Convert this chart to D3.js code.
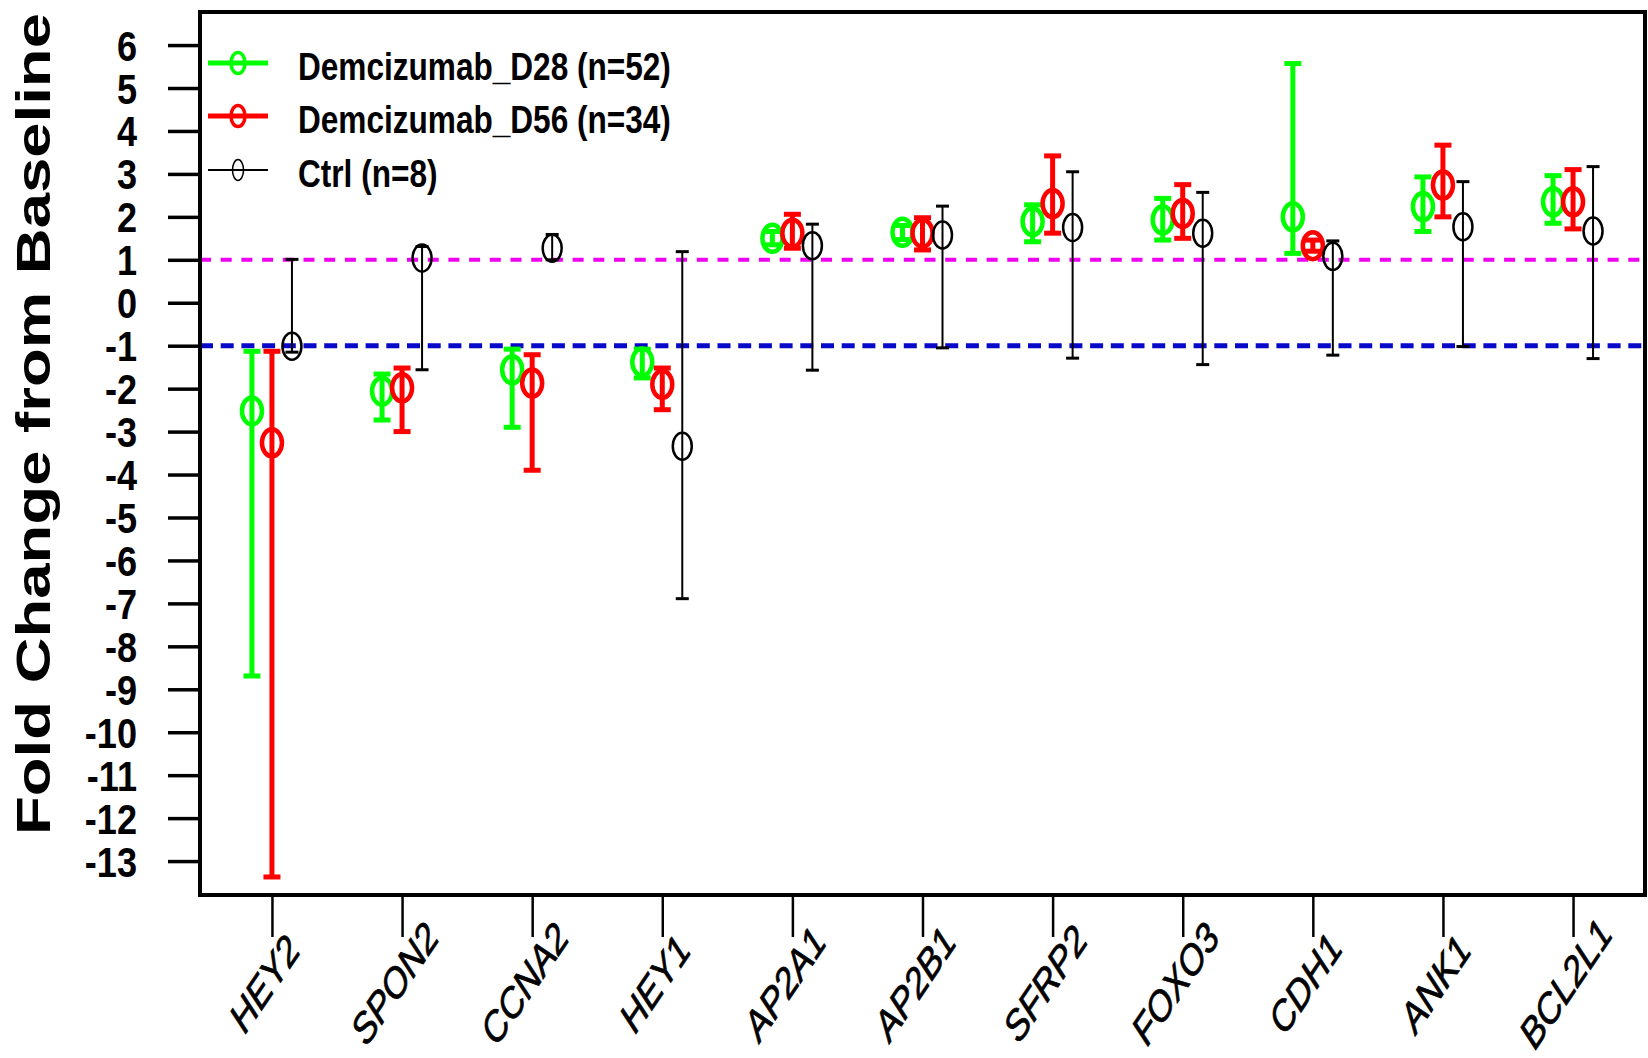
<!DOCTYPE html>
<html>
<head>
<meta charset="utf-8">
<script src="https://cdn.jsdelivr.net/npm/d3@7"></script>
<style>
  body { margin: 0; background: #fff; }
  svg { display: block; font-family: "Liberation Sans", Arial, sans-serif; }
</style>
</head>
<body>
<svg id="chart" width="1648" height="1058"></svg>
<script>
// genes on the x axis
var genes = ['HEY2', 'SPON2', 'CCNA2', 'HEY1', 'AP2A1', 'AP2B1', 'SFRP2', 'FOXO3', 'CDH1', 'ANK1', 'BCL2L1'];

// Demcizumab D28
var d28Mean = [-2.52, -2.06, -1.56, -1.38, 1.50, 1.64, 1.89, 1.93, 2.00, 2.24, 2.35];
var d28Low  = [-8.69, -2.73, -2.90, -1.75, 1.35, 1.47, 1.42, 1.46, 1.15, 1.66, 1.85];
var d28High = [-1.13, -1.66, -1.08, -1.08, 1.66, 1.80, 2.28, 2.43, 5.57, 2.93, 2.96];

// Demcizumab D56
var d56Mean = [-3.26, -1.98, -1.87, -1.90, 1.62, 1.62, 2.31, 2.08, 1.33, 2.74, 2.35];
var d56Low  = [-13.37, -3.00, -3.90, -2.49, 1.27, 1.23, 1.62, 1.50, 1.20, 2.00, 1.72];
var d56High = [-1.13, -1.52, -1.21, -1.52, 2.06, 1.98, 3.42, 2.75, 1.46, 3.67, 3.10];

// Ctrl
var ctrlMean = [-1.01, 1.04, 1.27, -3.34, 1.33, 1.58, 1.75, 1.62, 1.08, 1.77, 1.67];
var ctrlLow  = [-1.15, -1.56, 1.00, -6.89, -1.57, -1.05, -1.29, -1.44, -1.22, -1.02, -1.30];
var ctrlHigh = [1.01, 1.31, 1.59, 1.19, 1.83, 2.25, 3.05, 2.57, 1.44, 2.82, 3.17];

var yTicks = [6, 5, 4, 3, 2, 1, 0, -1, -2, -3, -4, -5, -6, -7, -8, -9, -10, -11, -12, -13];
var refLines = [1, -1];

var seriesNames = ['Demcizumab_D28 (n=52)', 'Demcizumab_D56 (n=34)', 'Ctrl (n=8)'];

var svg = d3.select('#chart');
// note: "top" is taken by window.top, so prefix the box edges
var boxL = 200, boxR = 1645, boxT = 12, boxB = 895;
var sx = 0.81; // text in the picture is narrow

var x = d3.scalePoint().domain(genes).range([boxL, boxR]).padding(0.553);
var y = d3.scaleLinear().domain([-13.79, 6.77]).range([boxB, boxT]);

var series = [
    { name: seriesNames[0], mean: d28Mean, low: d28Low, high: d28High, color: '#00ff00', offset: -20, lw: 5, cap: 17, capW: 5, rx: 10, ry: 13.5, sw: 4.5 },
    { name: seriesNames[1], mean: d56Mean, low: d56Low, high: d56High, color: '#ff0000', offset: 0, lw: 5, cap: 17, capW: 5, rx: 10, ry: 13.5, sw: 4.5 },
    { name: seriesNames[2], mean: ctrlMean, low: ctrlLow, high: ctrlHigh, color: '#000000', offset: 20, lw: 2, cap: 13, capW: 3, rx: 9.5, ry: 13.5, sw: 2.5 }
];

svg.append('rect').attr('width', 1648).attr('height', 1058).attr('fill', '#fff');

// reference lines at +1 / -1
svg.append('line')
    .attr('x1', boxL).attr('x2', boxR)
    .attr('y1', y(refLines[0])).attr('y2', y(refLines[0]))
    .attr('stroke', '#f000f0').attr('stroke-width', 4)
    .attr('stroke-dasharray', '11,9.7');
svg.append('line')
    .attr('x1', boxL).attr('x2', boxR)
    .attr('y1', y(refLines[1])).attr('y2', y(refLines[1]))
    .attr('stroke', '#0808c8').attr('stroke-width', 5)
    .attr('stroke-dasharray', '13,7.7');

// error bars + markers
series.forEach(function(s) {
    var g = svg.append('g');
    var rows = genes.map(function(gn, i) {
        return { gene: gn, mean: s.mean[i], low: s.low[i], high: s.high[i] };
    });
    var grp = g.selectAll('g').data(rows).enter().append('g')
        .attr('transform', function(d) { return 'translate(' + (x(d.gene) + s.offset) + ',0)'; });

    grp.append('line')
        .attr('y1', function(d) { return y(d.low); })
        .attr('y2', function(d) { return y(d.high); })
        .attr('stroke', s.color).attr('stroke-width', s.lw);
    grp.append('line')
        .attr('x1', -s.cap / 2).attr('x2', s.cap / 2)
        .attr('y1', function(d) { return y(d.high); })
        .attr('y2', function(d) { return y(d.high); })
        .attr('stroke', s.color).attr('stroke-width', s.capW);
    grp.append('line')
        .attr('x1', -s.cap / 2).attr('x2', s.cap / 2)
        .attr('y1', function(d) { return y(d.low); })
        .attr('y2', function(d) { return y(d.low); })
        .attr('stroke', s.color).attr('stroke-width', s.capW);
    grp.append('ellipse')
        .attr('cy', function(d) { return y(d.mean); })
        .attr('rx', s.rx).attr('ry', s.ry)
        .attr('fill', 'none')
        .attr('stroke', s.color).attr('stroke-width', s.sw);
});

// y axis
var yAxis = svg.append('g')
    .attr('transform', 'translate(' + boxL + ',0)')
    .call(d3.axisLeft(y).tickValues(yTicks).tickSize(32).tickFormat(function(d) { return String(d); }));
yAxis.select('.domain').remove();
yAxis.selectAll('.tick line').attr('stroke', '#000').attr('stroke-width', 3.5);
yAxis.selectAll('.tick text')
    .attr('x', null).attr('dy', null)
    .attr('transform', 'translate(-63,15) scale(0.86,1)')
    .attr('text-anchor', 'end')
    .attr('font-size', 42)
    .attr('font-weight', 'bold')
    .attr('font-family', '"Liberation Sans", Arial, sans-serif')
    .attr('fill', '#000');

// x axis
var xAxis = svg.append('g')
    .attr('transform', 'translate(0,' + boxB + ')')
    .call(d3.axisBottom(x).tickSize(42));
xAxis.select('.domain').remove();
xAxis.selectAll('.tick line').attr('stroke', '#000').attr('stroke-width', 2.5);
xAxis.selectAll('.tick text')
    .attr('y', null).attr('dy', null)
    .attr('transform', 'translate(1,98) scale(' + sx + ',1) rotate(-50)')
    .attr('text-anchor', 'middle')
    .attr('font-size', 42)
    .attr('font-style', 'italic')
    .attr('font-family', '"Liberation Sans", Arial, sans-serif')
    .attr('stroke', '#000').attr('stroke-width', 0.8)
    .attr('fill', '#000');

// plot frame
svg.append('rect')
    .attr('x', boxL).attr('y', boxT)
    .attr('width', boxR - boxL).attr('height', boxB - boxT)
    .attr('fill', 'none').attr('stroke', '#000').attr('stroke-width', 4);

// y title
var title = svg.append('text')
    .attr('text-anchor', 'middle')
    .attr('font-size', 49)
    .attr('font-weight', 'bold')
    .attr('fill', '#000')
    .text('Fold Change from Baseline');
var natural = title.node().getComputedTextLength();
title.attr('transform', 'translate(50,424) rotate(-90) scale(' + (822 / natural) + ',1)');

// legend
var legendY = [63, 116, 170];
var legend = svg.append('g').selectAll('g').data(series).enter().append('g')
    .attr('transform', function(d, i) { return 'translate(0,' + legendY[i] + ')'; });
legend.append('line')
    .attr('x1', 208).attr('x2', 268)
    .attr('stroke', function(d) { return d.color; })
    .attr('stroke-width', function(d) { return d.lw; });
legend.append('ellipse')
    .attr('cx', 238)
    .attr('rx', function(d, i) { return i < 2 ? 7 : 5.5; })
    .attr('ry', 10.5)
    .attr('fill', 'none')
    .attr('stroke', function(d) { return d.color; })
    .attr('stroke-width', function(d) { return d.sw - 1; });
legend.append('text')
    .attr('transform', 'translate(298,17) scale(' + sx + ',1)')
    .attr('font-size', 39)
    .attr('font-weight', 'bold')
    .attr('fill', '#000')
    .text(function(d) { return d.name; });
</script>
</body>
</html>
